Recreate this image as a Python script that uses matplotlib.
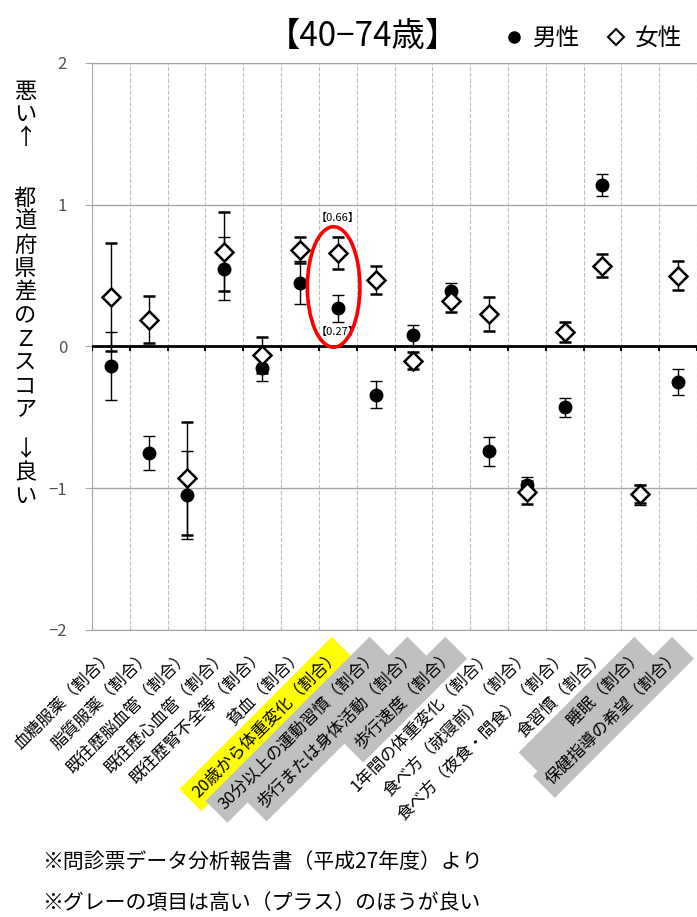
import numpy as np
import matplotlib.pyplot as plt
import matplotlib.transforms as mtransforms
from matplotlib.lines import Line2D
from matplotlib.patches import Ellipse

plt.rcParams['font.family'] = ['Noto Sans CJK JP', 'DejaVu Sans']

# ---- data ----
labels = [
    '血糖服薬（割合）', '脂質服薬（割合）', '既往歴脳血管（割合）', '既往歴心血管（割合）',
    '既往歴腎不全等（割合）', '貧血（割合）', '20歳から体重変化（割合）',
    '30分以上の運動習慣（割合）', '歩行または身体活動（割合）', '歩行速度（割合）',
    '1年間の体重変化（割合）', '食べ方（就寝前）（割合）', '食べ方（夜食・間食）（割合）',
    '食習慣（割合）', '睡眠（割合）', '保健指導の希望（割合）',
]
male = [-0.14, -0.75, -1.05, 0.55, -0.15, 0.45, 0.27, -0.34, 0.08, 0.39,
        -0.74, -0.98, -0.43, 1.14, -1.05, -0.25]
male_err = [0.24, 0.12, 0.31, 0.22, 0.09, 0.15, 0.095, 0.095, 0.075, 0.06,
            0.10, 0.06, 0.065, 0.08, 0.07, 0.09]
female = [0.35, 0.19, -0.93, 0.67, -0.06, 0.68, 0.66, 0.47, -0.10, 0.32,
          0.23, -1.03, 0.10, 0.57, -1.04, 0.50]
female_err = [0.38, 0.165, 0.40, 0.28, 0.13, 0.09, 0.11, 0.10, 0.06, 0.08,
              0.12, 0.08, 0.07, 0.08, 0.065, 0.10]
# label background: yellow = highlighted item, gray = "higher is better"
label_bg = [None, None, None, None, None, None, '#FFFF00', '#C0C0C0', '#C0C0C0',
            '#C0C0C0', None, None, None, None, '#C0C0C0', '#C0C0C0']
highlight = '20歳から体重変化（割合）'

x = np.arange(len(labels))

fig = plt.figure(figsize=(6.97, 9.17), dpi=100)
ax = fig.add_axes([0.132, 0.313, 0.868, 0.6183])

ax.errorbar(x, male, yerr=male_err, fmt='o', color='black', ms=9,
            ecolor='black', elinewidth=1, capsize=4, capthick=1, zorder=4)
ax.errorbar(x, female, yerr=female_err, fmt='D', mfc='white', mec='black', mew=1.8,
            ms=9, ecolor='black', elinewidth=1, capsize=4, capthick=1, zorder=5)

ax.set_xlim(-0.5, 15.4)
ax.set_ylim(-2, 2)

# grid / axes styling
ax.set_yticks([-2, -1, 0, 1, 2])
ax.grid(axis='y', color='#A6A6A6', lw=1)
ax.set_xticks(np.arange(-0.5, len(labels), 1), minor=True)
ax.grid(axis='x', which='minor', color='#BFBFBF', lw=0.8, ls='--')
ax.set_axisbelow(True)
ax.axhline(0, color='black', lw=2, zorder=3)
ax.vlines(np.arange(-0.5, len(labels), 1), -0.035, 0, color='black', lw=1.5, zorder=3)
for s in ['left', 'bottom', 'top']:
    ax.spines[s].set_color('#A6A6A6')
ax.spines['right'].set_visible(False)
ax.tick_params(axis='y', length=5, color='#A6A6A6', labelcolor='#505050',
               labelsize=12, pad=13)
ax.tick_params(axis='x', which='both', length=0, pad=12)

# long gray box for 睡眠 as in the original (box wider than the text)
shown = ['\u3000\u3000\u3000' + l if l == '睡眠（割合）' else l for l in labels]
ax.set_xticks(x, shown, rotation=45, ha='right', rotation_mode='anchor', fontsize=12)
shift = mtransforms.ScaledTranslation(-6 / 100, 0, fig.dpi_scale_trans)
for lab, bg in zip(ax.get_xticklabels(), label_bg):
    lab.set_transform(lab.get_transform() + shift)
    if bg:
        lab.set_bbox(dict(facecolor=bg, edgecolor='none', pad=5))

# highlighted item
hl = labels.index(highlight)
ax.add_patch(Ellipse((hl - 0.11, 0.42), 1.39, 0.85, fill=False, ec='red', lw=2.6, zorder=6))
ax.annotate(f'【{female[hl]:.2f}】', (hl, female[hl]), xytext=(0, 25),
            textcoords='offset points', ha='center', va='center', fontsize=8)
ax.annotate(f'【{male[hl]:.2f}】', (hl, male[hl]), xytext=(0, -17),
            textcoords='offset points', ha='center', va='center', fontsize=8)

# title and legend
fig.text(363 / 697, 1 - 36 / 917, '【40−74歳】', ha='center', va='center', fontsize=24)
handles = [Line2D([], [], ls='none', marker='o', color='black', ms=8),
           Line2D([], [], ls='none', marker='D', mfc='white', mec='black', mew=1.5, ms=8)]
ax.legend(handles, ['男性', '女性'], ncol=2, loc='center right', bbox_to_anchor=(1.01, 1.043),
          frameon=False, fontsize=17, handlelength=1, handletextpad=0.3, columnspacing=1.0)

# vertical y-axis caption
fig.text(0.036, 1 - 114 / 917, '\n'.join('悪い↑'), ha='center', va='center',
         fontsize=16, linespacing=1.0)
fig.text(0.036, 1 - 304 / 917, '\n'.join('都道府県差のＺスコア'), ha='center', va='center',
         fontsize=16, linespacing=1.03)
fig.text(0.036, 1 - 473 / 917, '\n'.join('↓良い'), ha='center', va='center',
         fontsize=16, linespacing=1.0)

# footnotes
fig.text(42 / 697, 1 - 862 / 917, '※問診票データ分析報告書（平成27年度）より',
         ha='left', va='center', fontsize=15)
fig.text(42 / 697, 1 - 903 / 917, '※グレーの項目は高い（プラス）のほうが良い',
         ha='left', va='center', fontsize=15)

fig.savefig('out.png', dpi=100)
